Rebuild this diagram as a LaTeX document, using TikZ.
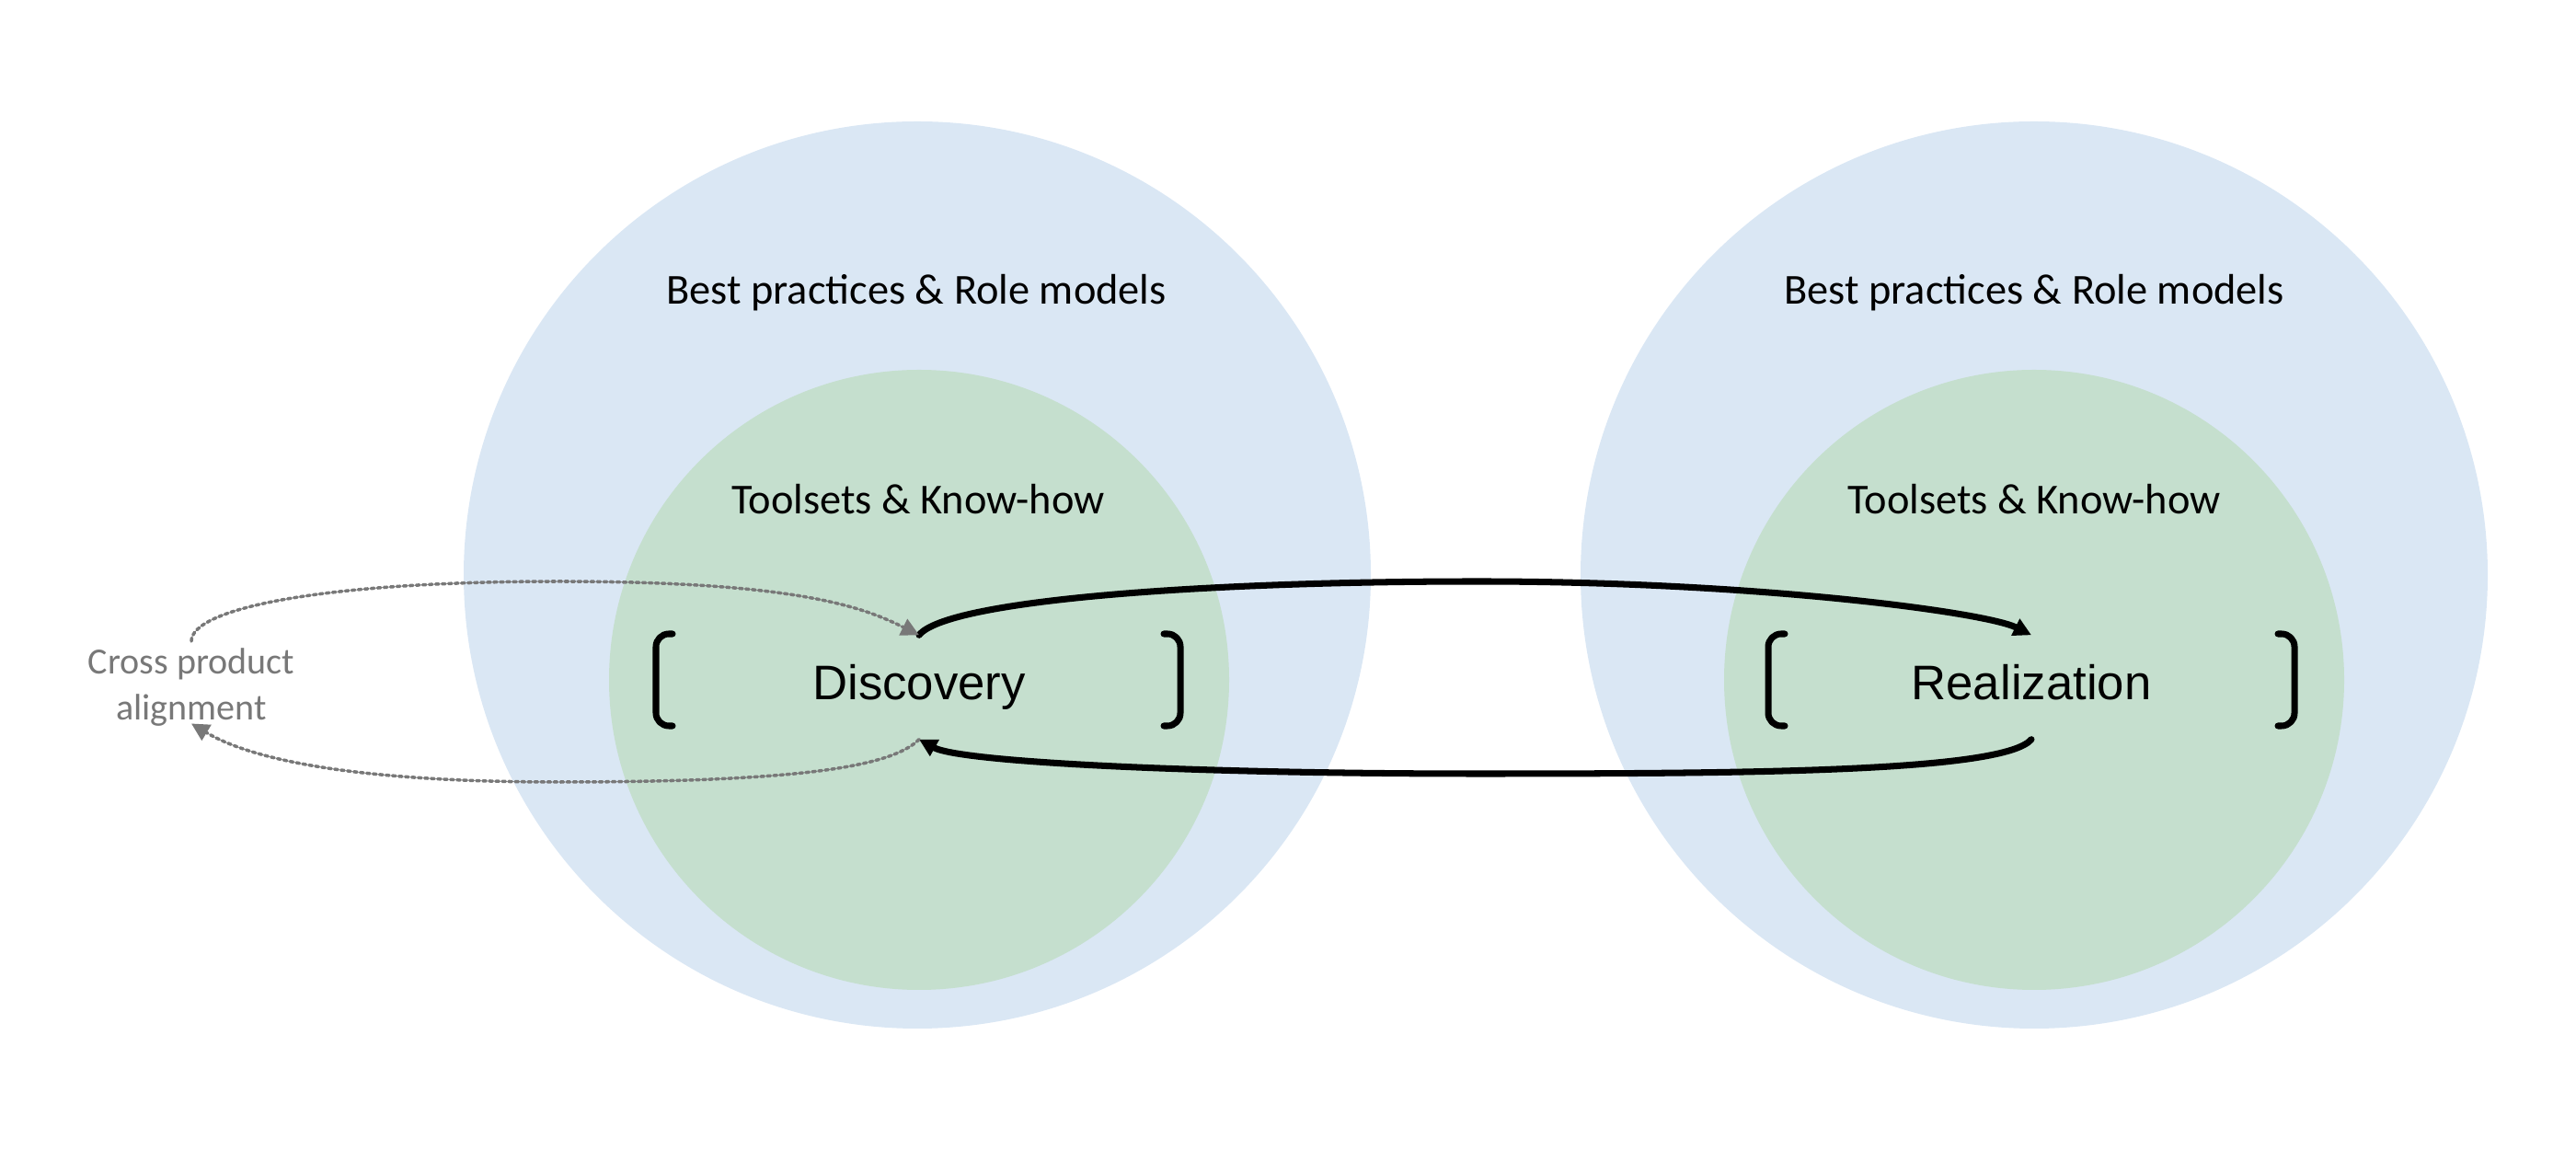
\documentclass[tikz,border=0pt]{standalone}
\usepackage{fontspec}
\setmainfont{Carlito}
\newfontfamily\phasefont{Liberation Sans}
\usetikzlibrary{positioning,arrows.meta}
\definecolor{outerblue}{RGB}{218,231,244}
\definecolor{innergreen}{RGB}{197,223,206}
\definecolor{syncgray}{RGB}{120,120,120}
\tikzset{
	outer/.style={circle, fill=outerblue, minimum size=9.86cm, inner sep=0pt},
	inner/.style={circle, fill=innergreen, minimum size=6.74cm, inner sep=0pt},
	ring/.style={font=\fontsize{13.2}{16}\selectfont},
	phase/.style={font=\phasefont\fontsize{15}{18}\selectfont, text height=10.9pt, text depth=3.2pt, minimum height=1.12cm, inner sep=0pt},
	bracket/.style={line width=2pt, rounded corners=0.14cm},
	flow/.style={->, line width=2pt},
	sync/.style={->, syncgray, line width=1pt, densely dotted},
}
\begin{document}
\begin{tikzpicture}[>={Triangle[length=5.5pt,width=5.5pt]}, line join=round, line cap=round]
	\useasboundingbox (0,0) rectangle (28,12.5);
	\node[outer] (bpL) at (9.97,6.25) {};
	\node[outer] (bpR) at (22.11,6.25) {};
	\node[inner] (tkL) at (9.99,5.11) {};
	\node[inner] (tkR) at (22.11,5.11) {};
	\node[ring] (bpLtxt) at (9.96,9.32) {Best practices \& Role models};
	\node[ring] (bpRtxt) at (22.11,9.32) {Best practices \& Role models};
	\node[ring] (tkLtxt) at (9.98,7.07) {Toolsets \& Know-how};
	\node[ring] (tkRtxt) at (22.11,7.07) {Toolsets \& Know-how};
	\node[phase] (disc) at (9.99,5.03) {Discovery};
	\node[phase] (real) at (22.08,5.03) {Realization};
	\node[syncgray, align=center, inner sep=2pt, font=\fontsize{11.4}{14.2}\selectfont] (cpa) at (2.08,5.03) {Cross product\\alignment};
	% brackets
	\draw[bracket] (7.31,5.61) -- (7.13,5.61) -- (7.13,4.61) -- (7.31,4.61);
	\draw[bracket] (12.65,5.61) -- (12.83,5.61) -- (12.83,4.61) -- (12.65,4.61);
	\draw[bracket] (19.40,5.61) -- (19.22,5.61) -- (19.22,4.61) -- (19.40,4.61);
	\draw[bracket] (24.76,5.61) -- (24.94,5.61) -- (24.94,4.61) -- (24.76,4.61);
	% loops
	\coordinate (ftop) at (16.07,6.18);
	\coordinate (fbot) at (16.07,4.09);
	\coordinate (dtop) at (6.07,6.18);
	\coordinate (dbot) at (6.07,4.0);
	\draw[flow] (disc.north) .. controls +(0.3,0.38) and +(-3,0) .. (ftop)
		.. controls +(3,0) and +(-0.5,0.25) .. (real.north);
	\draw[flow] (real.south) .. controls +(-0.3,-0.35) and +(3,0) .. (fbot)
		.. controls +(-3,0) and +(0.45,-0.25) .. (disc.south);
	\draw[sync] (cpa.north) .. controls +(0,0.35) and +(-2.6,0) .. (dtop)
		.. controls +(2.6,0) and +(-0.6,0.3) .. (disc.north);
	\draw[sync] (disc.south) .. controls +(-0.3,-0.3) and +(2.6,0) .. (dbot)
		.. controls +(-2.6,0) and +(0.5,-0.3) .. ([yshift=3pt]cpa.south);
\end{tikzpicture}
\end{document}
